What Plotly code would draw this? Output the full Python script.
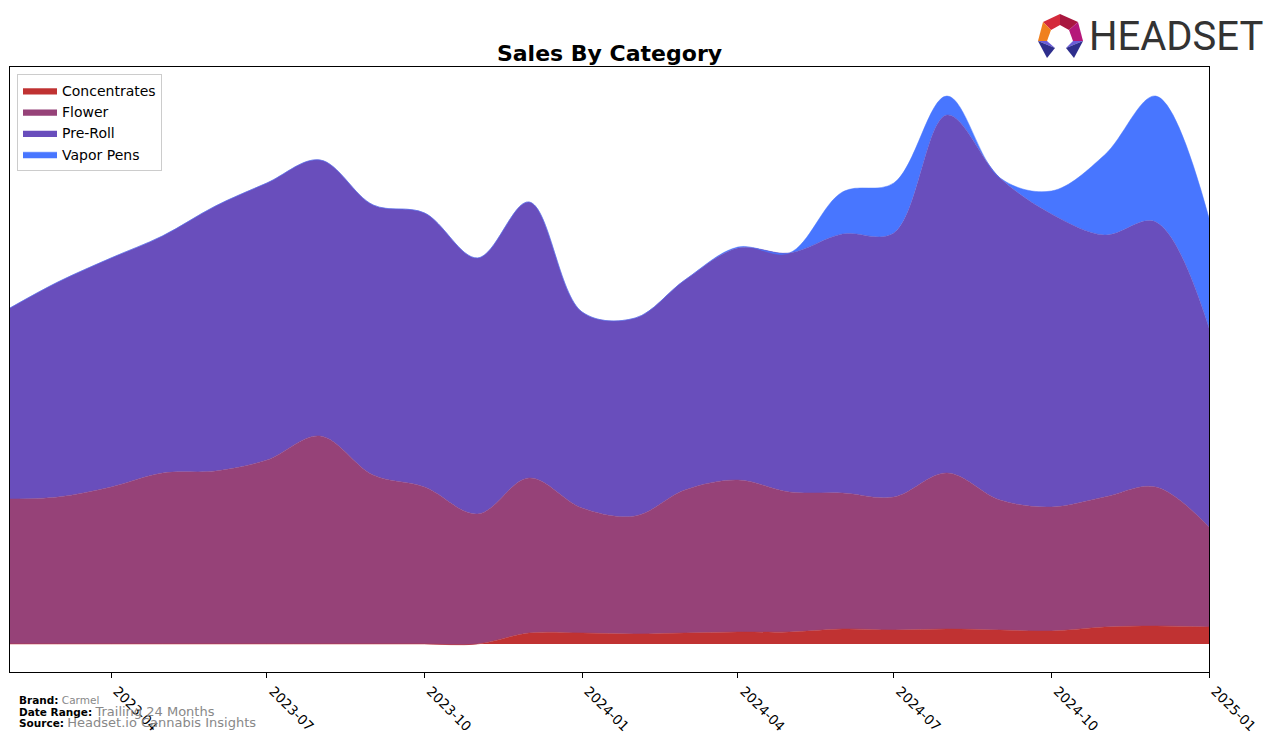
import plotly.graph_objects as go

months = ["2023-02-01", "2023-03-01", "2023-04-01", "2023-05-01", "2023-06-01", "2023-07-01",
          "2023-08-01", "2023-09-01", "2023-10-01", "2023-11-01", "2023-12-01", "2024-01-01",
          "2024-02-01", "2024-03-01", "2024-04-01", "2024-05-01", "2024-06-01", "2024-07-01",
          "2024-08-01", "2024-09-01", "2024-10-01", "2024-11-01", "2024-12-01", "2025-01-01"]

concentrates = [0, 0, 0, 0, 0, 0, 0, 0, 0, 0, 11, 11,
                10, 11, 12, 12, 15, 14, 15, 14, 13, 17, 18, 17]
flower = [145, 147, 157, 171, 173, 184, 208, 169, 157, 130, 155, 125,
          118, 143, 152, 140, 136, 133, 156, 130, 124, 130, 139, 100]
pre_roll = [191, 215, 229, 237, 265, 277, 276, 270, 274, 256, 276, 196,
            198, 210, 232, 239, 259, 264, 358, 322, 293, 262, 265, 199]
vapor_pens = [0, 0, 0, 0, 0, 0, 0, 0, 0, 0, 0, 0,
              0, 0, 1, 0, 42, 50, 19, 0, 23, 80, 126, 110]

tick_vals = ["2023-04-01", "2023-07-01", "2023-10-01", "2024-01-01",
             "2024-04-01", "2024-07-01", "2024-10-01", "2025-01-01"]
tick_text = ["2023-04", "2023-07", "2023-10", "2024-01",
             "2024-04", "2024-07", "2024-10", "2025-01"]

series = [("Concentrates", concentrates, "#C03232"),
          ("Flower", flower, "#964278"),
          ("Pre-Roll", pre_roll, "#694EBC"),
          ("Vapor Pens", vapor_pens, "#4876FF")]

fig = go.Figure()
for name, vals, col in series:
    fig.add_trace(go.Scatter(
        x=months, y=vals, name=name, mode="lines",
        stackgroup="one", line=dict(shape="spline", smoothing=1.0, width=0.5, color=col),
        fillcolor=col, hoverinfo="x+y+name"))

# page offset from the html body margin
OFF = 8
W, H = 1276 - OFF, 743 - OFF
L, R, T, B = 10, 1209, 67, 672  # plot area in page pixels

def px(x, y):
    return (x - L) / (R - L), (B - y) / (B - T)

def poly(points, color):
    path = ""
    for i, (x, y) in enumerate(points):
        xp, yp = px(x, y)
        path += ("M" if i == 0 else "L") + f"{xp},{yp} "
    return dict(type="path", xref="paper", yref="paper", path=path + "Z",
                fillcolor=color, line=dict(width=0), layer="above")

shapes = [
    poly([(1043, 22), (1060, 14), (1060, 25), (1051, 30)], "#D42A3C"),
    poly([(1060, 14), (1078, 22), (1069, 30), (1060, 25)], "#A8173F"),
    poly([(1078, 22), (1083, 41), (1073, 41), (1069, 30)], "#B5177A"),
    poly([(1043, 22), (1051, 30), (1047, 41), (1038, 41)], "#F0801E"),
    poly([(1038, 41), (1047, 41), (1055, 48)], "#6A5CD8"),
    poly([(1038, 41), (1055, 48), (1047, 58)], "#2E2E8C"),
    poly([(1083, 41), (1073, 41), (1066, 48)], "#6A5CD8"),
    poly([(1083, 41), (1066, 48), (1074, 58)], "#2E2E8C"),
]

annotations = [
    dict(text="<b>Brand:</b> <span style='color:#888888'>Carmel</span>",
         x=17, y=700),
    dict(text="<b>Date Range:</b> <span style='color:#888888;font-size:13px'>Trailing 24 Months</span>",
         x=17, y=711),
    dict(text="<b>Source:</b> <span style='color:#888888;font-size:13px'>Headset.io Cannabis Insights</span>",
         x=17, y=722),
]
ann_list = []
for a in annotations:
    xp, yp = px(a["x"], a["y"])
    ann_list.append(dict(text=a["text"], x=xp, y=yp, xref="paper", yref="paper",
                         xanchor="left", yanchor="middle", showarrow=False,
                         font=dict(family="DejaVu Sans", size=10.5, color="black")))
lx, ly = px(1087, 37)
ann_list.append(dict(text="HEADSET", x=lx, y=ly, xref="paper", yref="paper",
                     xanchor="left", yanchor="middle", showarrow=False,
                     font=dict(family="Roboto, sans-serif", size=40, color="#333333")))

fig.update_layout(
    width=W, height=H,
    margin=dict(l=L - OFF, r=W - (R - OFF), t=T - OFF, b=H - (B - OFF)),
    paper_bgcolor="white", plot_bgcolor="white",
    title=dict(text="<b>Sales By Category</b>", x=((L + R) / 2 - OFF) / W, xanchor="center",
               y=1 - (53 - OFF) / H, yanchor="middle",
               font=dict(family="DejaVu Sans", size=22, color="black")),
    font=dict(family="DejaVu Sans", size=14, color="black"),
    legend=dict(x=px(17, 74)[0], y=px(17, 74)[1], xanchor="left", yanchor="top",
                bordercolor="#CCCCCC", borderwidth=1, bgcolor="rgba(255,255,255,0.8)",
                font=dict(family="DejaVu Sans", size=14), traceorder="normal",
                itemwidth=34, tracegroupgap=0),
    xaxis=dict(type="date", range=["2023-02-01", "2025-01-01"],
               tickvals=tick_vals, ticktext=tick_text, tickangle=45,
               ticks="outside", ticklen=5, tickcolor="black", ticklabelshift=6,
               showgrid=False, zeroline=False, showline=True, linecolor="black",
               linewidth=1, mirror=True, tickfont=dict(size=13.5, family="DejaVu Sans")),
    yaxis=dict(range=[-28, 577], showticklabels=False, ticks="", showgrid=False,
               zeroline=False, showline=True, linecolor="black", linewidth=1, mirror=True),
    shapes=shapes,
    annotations=ann_list,
    showlegend=True,
)

fig.write_html("out.html")
